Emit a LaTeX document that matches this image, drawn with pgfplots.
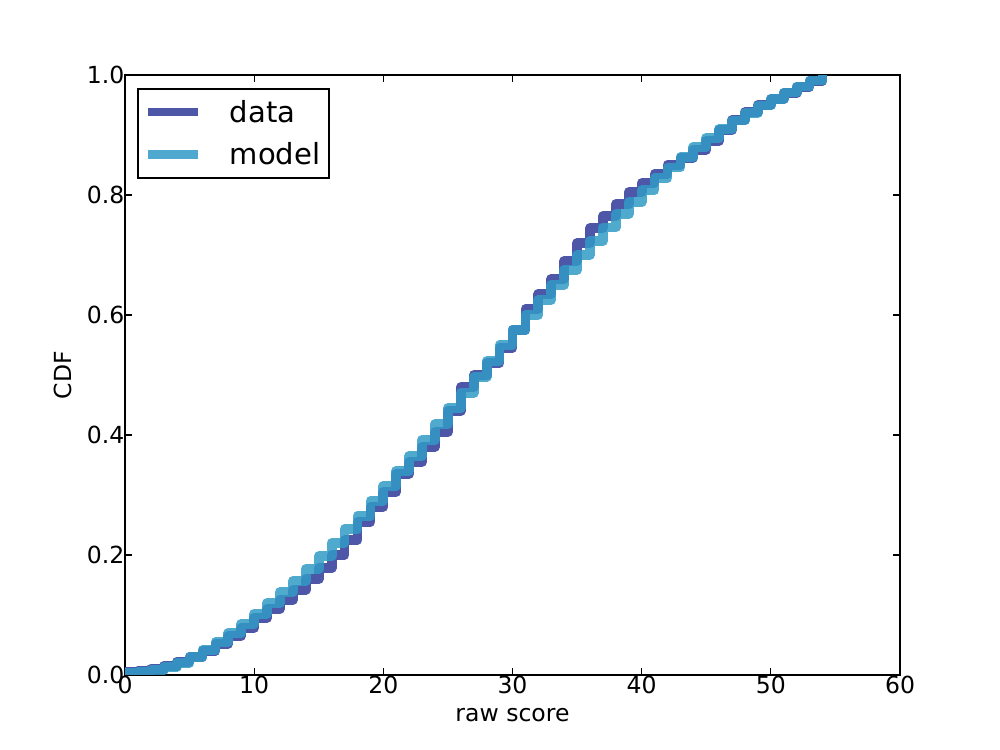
\documentclass[border=0pt]{standalone}
\usepackage{fontspec}
\setmainfont{DejaVu Sans}
\usepackage{pgfplots}
\pgfplotsset{compat=1.18}
\definecolor{cdata}{RGB}{78,86,168}
\definecolor{cmodel}{RGB}{49,155,198}
\begin{document}
\begin{tikzpicture}
\begin{axis}[
  at={(0,0)}, anchor=south west,
  scale only axis, width=7.75in, height=6in,
  xmin=0, xmax=60, ymin=0, ymax=1,
  xtick={0,10,20,30,40,50,60},
  ytick={0,0.2,0.4,0.6,0.8,1.0},
  yticklabels={0.0,0.2,0.4,0.6,0.8,1.0},
  tick align=inside, major tick length=0.07in,
  xtick pos=both, ytick pos=both,
  axis line style={line width=2pt},
  tick style={line width=0.8pt, black},
  /pgf/number format/assume math mode=true,
  ticklabel style={font=\fontsize{17}{20}\selectfont},
  xticklabel style={yshift=3pt},
  yticklabel style={xshift=3pt},
  xlabel={raw score}, ylabel={CDF},
  label style={font=\fontsize{17}{20}\selectfont},
  xlabel style={yshift=-4pt},
  ylabel style={yshift=4pt},
  legend style={font=\fontsize{21}{26}\selectfont, draw=black, line width=1.4pt,
    at={(0.016,0.978)}, anchor=north west, inner xsep=4pt, inner ysep=6pt,
    row sep=9pt},
  legend cell align=left,
  legend image code/.code={\draw[#1, line width=6pt, line cap=butt] (0cm,0cm) -- (0.5in,0cm);},
]
\addplot[const plot mark left, cdata, line width=7pt, line join=round] coordinates {
(0,0.005)(1,0.007)(2,0.010)(3,0.015)(4,0.022)(5,0.030)(6,0.040)(7,0.052)(8,0.065)(9,0.078)
(10,0.095)(11,0.110)(12,0.125)(13,0.142)(14,0.160)(15,0.178)(16,0.200)(17,0.225)(18,0.255)(19,0.280)
(20,0.305)(21,0.335)(22,0.355)(23,0.380)(24,0.405)(25,0.440)(26,0.480)(27,0.500)(28,0.520)(29,0.545)
(30,0.575)(31,0.610)(32,0.635)(33,0.660)(34,0.690)(35,0.720)(36,0.745)(37,0.765)(38,0.785)(39,0.805)
(40,0.820)(41,0.835)(42,0.850)(43,0.862)(44,0.875)(45,0.890)(46,0.908)(47,0.925)(48,0.938)(49,0.950)
(50,0.960)(51,0.970)(52,0.980)(53,0.990)(54,1.000)
};
\addlegendentry{\hspace{18pt}data}
\addplot[const plot mark left, cmodel, opacity=0.85, line width=7pt, line join=round] coordinates {
(0,0.003)(1,0.005)(2,0.008)(3,0.013)(4,0.020)(5,0.030)(6,0.042)(7,0.055)(8,0.070)(9,0.085)
(10,0.102)(11,0.120)(12,0.138)(13,0.157)(14,0.177)(15,0.198)(16,0.220)(17,0.243)(18,0.265)(19,0.290)
(20,0.315)(21,0.340)(22,0.365)(23,0.392)(24,0.418)(25,0.445)(26,0.470)(27,0.497)(28,0.523)(29,0.550)
(30,0.575)(31,0.600)(32,0.625)(33,0.650)(34,0.675)(35,0.700)(36,0.723)(37,0.746)(38,0.768)(39,0.788)
(40,0.808)(41,0.828)(42,0.846)(43,0.863)(44,0.880)(45,0.895)(46,0.910)(47,0.924)(48,0.937)(49,0.949)
(50,0.960)(51,0.971)(52,0.981)(53,0.991)(54,1.000)
};
\addlegendentry{\hspace{18pt}model}
\end{axis}
\path[use as bounding box] (-1.25in,-0.75in) rectangle (8.75in,6.75in);
\end{tikzpicture}
\end{document}
